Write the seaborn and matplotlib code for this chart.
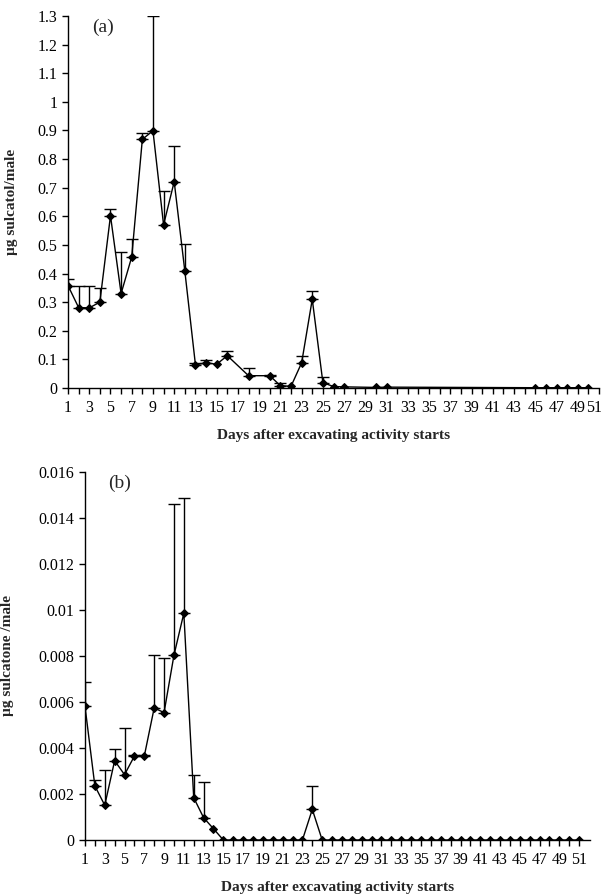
import numpy as np
import pandas as pd
import matplotlib
matplotlib.use("Agg")
import matplotlib.pyplot as plt
import matplotlib.transforms as mtransforms
import seaborn as sns

# Panel (a): sulcatol per male
days_a = [1, 2, 3, 4, 5, 6, 7, 8, 9, 10, 11, 12, 13, 14, 15, 16, 18, 20, 21, 22,
          23, 24, 25, 26, 27, 30, 31, 45, 46, 47, 48, 49, 50]
sulcatol = [0.358, 0.281, 0.28, 0.30, 0.602, 0.33, 0.458, 0.869, 0.899, 0.57,
            0.721, 0.409, 0.081, 0.088, 0.083, 0.113, 0.043, 0.043, 0.008, 0.006,
            0.088, 0.31, 0.019, 0.005, 0.004, 0.002, 0.003, 0.001, 0.001, 0.001,
            0.001, 0.001, 0.001]
sulcatol_upper = [0.381, 0.357, 0.357, 0.35, 0.627, 0.477, 0.52, 0.89, 1.30, 0.689,
                  0.847, 0.502, 0.088, 0.099, 0.083, 0.129, 0.069, 0.046, 0.017, 0.006,
                  0.113, 0.34, 0.038, 0.005, 0.004, 0.002, 0.003, 0.001, 0.001, 0.001,
                  0.001, 0.001, 0.001]

# Panel (b): sulcatone per male
days_b = list(range(1, 52))
sulcatone = [0.00581, 0.00235, 0.00151, 0.00345, 0.00284, 0.00365, 0.00365, 0.00574,
             0.00554, 0.00803, 0.00986, 0.00184, 0.00097, 0.00049] + [0.0] * 9 + \
            [0.00133] + [0.0] * 27
sulcatone_upper = [0.00686, 0.00261, 0.00304, 0.00397, 0.00487, 0.0037, 0.0037, 0.00804,
                   0.00793, 0.0146, 0.01488, 0.00284, 0.00251, 0.00049] + [0.0] * 9 + \
                  [0.00235] + [0.0] * 27

sns.set_style("ticks")
plt.rcParams['font.family'] = ['Liberation Serif', 'DejaVu Serif']

fig = plt.figure(figsize=(6.01, 8.94), dpi=100)
ax_a = fig.add_axes([68 / 601, 1 - 388 / 894, 531 / 601, 372 / 894])
ax_b = fig.add_axes([85 / 601, 1 - 840 / 894, 505 / 601, 368 / 894])

df_a = pd.DataFrame({'day': days_a, 'value': sulcatol, 'upper': sulcatol_upper})
df_b = pd.DataFrame({'day': days_b, 'value': sulcatone, 'upper': sulcatone_upper})


def draw(ax, df, ylabel, tag, yticks, ylabels, xmax, fs):
    # upper-only error bars
    mask = df['upper'] > df['value'] + 1e-9
    sub = df[mask]
    ax.errorbar(sub['day'], sub['value'],
                yerr=[np.zeros(len(sub)), sub['upper'] - sub['value']],
                fmt='none', ecolor='black', elinewidth=1.0, capsize=4, capthick=1.0,
                zorder=2)
    sns.lineplot(data=df, x='day', y='value', ax=ax, color='black', linewidth=1.0,
                 marker='D', markersize=4.5, markeredgecolor='black', zorder=3)
    ax.set_xlim(1, xmax)
    ax.set_ylim(0, yticks[-1])
    ax.set_yticks(yticks)
    ax.set_yticklabels(ylabels, fontsize=fs)
    ax.set_xticks(days_b)
    ax.set_xticklabels([str(d) if d % 2 == 1 else '' for d in days_b], fontsize=fs)
    ax.tick_params(axis='both', direction='out', length=4, width=1.0, colors='black')
    ax.tick_params(axis='x', pad=5)
    ax.set_ylabel(ylabel, fontsize=fs - 0.5, fontweight='bold')
    ax.set_xlabel('Days after excavating activity starts', fontsize=fs - 0.5,
                  fontweight='bold', labelpad=9)
    for side in ['top', 'right']:
        ax.spines[side].set_visible(False)
    for side in ['left', 'bottom']:
        ax.spines[side].set_linewidth(1.0)
        ax.spines[side].set_color('black')
    ax.text(0.045, 0.992, tag, transform=ax.transAxes, fontsize=14, va='top')
    ax.patch.set_alpha(0)


draw(ax_a, df_a, 'µg sulcatol/male', '(a)',
     [0, 0.1, 0.2, 0.3, 0.4, 0.5, 0.6, 0.7, 0.8, 0.9, 1.0, 1.1, 1.2, 1.3],
     ['0', '0.1', '0.2', '0.3', '0.4', '0.5', '0.6', '0.7', '0.8', '0.9', '1', '1.1',
      '1.2', '1.3'], 51, 11.5)
draw(ax_b, df_b, 'µg sulcatone /male', '(b)',
     [0, 0.002, 0.004, 0.006, 0.008, 0.01, 0.012, 0.014, 0.016],
     ['0', '0.002', '0.004', '0.006', '0.008', '0.01', '0.012', '0.014', '0.016'],
     52.1, 11.5)

# nudge the last label of panel (a) left so it stays inside the figure
last = ax_a.get_xticklabels()[-1]
last.set_transform(last.get_transform() +
                   mtransforms.ScaledTranslation(-5 / 100, 0, fig.dpi_scale_trans))

ax_a.yaxis.set_label_coords(-0.095, 0.5)
ax_b.yaxis.set_label_coords(-0.14, 0.5)

fig.savefig('out.png', dpi=100)
